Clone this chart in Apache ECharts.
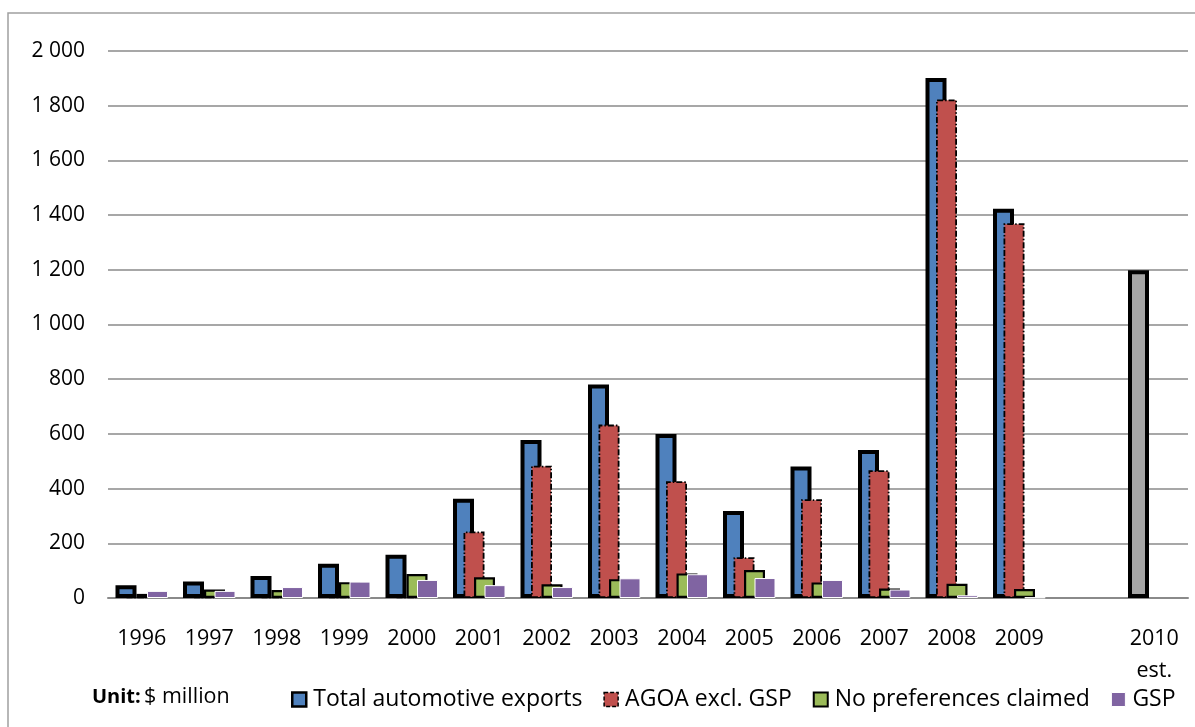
<!DOCTYPE html>
<html>
<head>
<meta charset="utf-8">
<script src="https://cdn.jsdelivr.net/npm/echarts@6/dist/echarts.min.js"></script>
<style>
  html, body { margin: 0; padding: 0; background: #fff; }
  #chart { width: 1195px; height: 727px; }
</style>
</head>
<body>
<div id="chart"></div>
<script>
// Years on the category axis (an empty slot separates 2009 from the 2010 estimate)
const categories = ['1996', '1997', '1998', '1999', '2000', '2001', '2002', '2003',
  '2004', '2005', '2006', '2007', '2008', '2009', '', '2010\nest.'];

// Values in $ million
const totalExports = [47, 60, 80, 125, 158, 363, 578, 781, 600, 318, 481, 541, 1901, 1423, null, 1198];
const agoaExclGsp = [4, 4, 4, 4, 4, 243, 484, 634, 427, 149, 361, 467, 1823, 1370, null, null];
const noPreferences = [15, 31, 29, 58, 88, 76, 50, 69, 90, 102, 57, 35, 52, 33, null, null];
const gsp = [26, 26, 40, 60, 66, 47, 40, 72, 87, 73, 66, 31, 10, 2, null, null];

const seriesNames = ['Total automotive exports', 'AGOA excl. GSP', 'No preferences claimed', 'GSP'];
const estimateIndex = 15;

const FONT = '"Open Sans", "DejaVu Sans", sans-serif';

function thousands(v) {
  const s = String(v);
  return s.length > 3 ? s.slice(0, s.length - 3) + ' ' + s.slice(-3) : s;
}

const totalData = totalExports.map((v, i) => i === estimateIndex
  ? { value: v, itemStyle: { color: '#A6A6A6' } }
  : v);

const chart = echarts.init(document.getElementById('chart'), null, { renderer: 'canvas' });

chart.setOption({
  animation: false,
  backgroundColor: '#ffffff',
  textStyle: { fontFamily: FONT, color: '#000' },
  grid: { left: 108, right: 7, top: 51, bottom: 129, containLabel: false },
  xAxis: {
    type: 'category',
    data: categories,
    axisLine: { lineStyle: { color: '#8a8a8a', width: 2 } },
    axisTick: { show: false },
    axisLabel: { fontFamily: FONT, fontSize: 21.5, color: '#000', margin: 25, lineHeight: 32, interval: 0 }
  },
  yAxis: {
    type: 'value',
    min: 0, max: 2000, interval: 200,
    axisLine: { show: false },
    axisTick: { show: false },
    splitLine: { lineStyle: { color: '#8a8a8a', width: 1.5 } },
    axisLabel: { fontFamily: FONT, fontSize: 21, color: '#000', margin: 23, formatter: thousands }
  },
  legend: {
    left: 286, top: 683,
    itemWidth: 14, itemHeight: 14, itemGap: 21,
    textStyle: { fontFamily: FONT, fontSize: 23, color: '#000', padding: [0, 0, 0, 2] },
    data: [
      { name: seriesNames[0], icon: 'rect', itemStyle: { color: '#4F81BD', borderColor: '#000', borderWidth: 2.5 } },
      { name: seriesNames[1], icon: 'rect', itemStyle: { color: '#C0504D', borderColor: '#000', borderWidth: 1.5, borderType: [4, 2] } },
      { name: seriesNames[2], icon: 'rect', itemStyle: { color: '#9BBB59', borderColor: '#000', borderWidth: 2 } },
      { name: seriesNames[3], icon: 'rect', itemStyle: { color: '#8064A2', borderColor: '#fff', borderWidth: 1 } }
    ]
  },
  graphic: [
    {
      type: 'rect', silent: true,
      shape: { x: 8, y: 13, width: 1200, height: 730 },
      style: { fill: 'none', stroke: '#a0a0a0', lineWidth: 1.5 }
    },
    {
      type: 'text', left: 92, top: 686,
      style: {
        text: '{b|Unit:} {n|$ million}',
        rich: {
          b: { fontFamily: FONT, fontSize: 20, fontWeight: 'bold', fill: '#000' },
          n: { fontFamily: FONT, fontSize: 21.5, fill: '#000' }
        }
      }
    }
  ],
  series: [
    {
      name: seriesNames[0], type: 'bar', data: totalData,
      barWidth: 21, barGap: '-50%',
      itemStyle: { color: '#4F81BD', borderColor: '#000', borderWidth: 4 }
    },
    {
      name: seriesNames[1], type: 'bar', data: agoaExclGsp,
      barWidth: 21, barGap: '-50%',
      itemStyle: { color: '#C0504D', borderColor: '#000', borderWidth: 1.8, borderType: [6, 2, 1.5, 2] }
    },
    {
      name: seriesNames[2], type: 'bar', data: noPreferences,
      barWidth: 21, barGap: '-50%',
      itemStyle: { color: '#9BBB59', borderColor: '#000', borderWidth: 2.2 }
    },
    {
      name: seriesNames[3], type: 'bar', data: gsp,
      barWidth: 21, barGap: '-50%',
      itemStyle: { color: '#8064A2', borderColor: '#fff', borderWidth: 1 }
    }
  ]
});
</script>
</body>
</html>
